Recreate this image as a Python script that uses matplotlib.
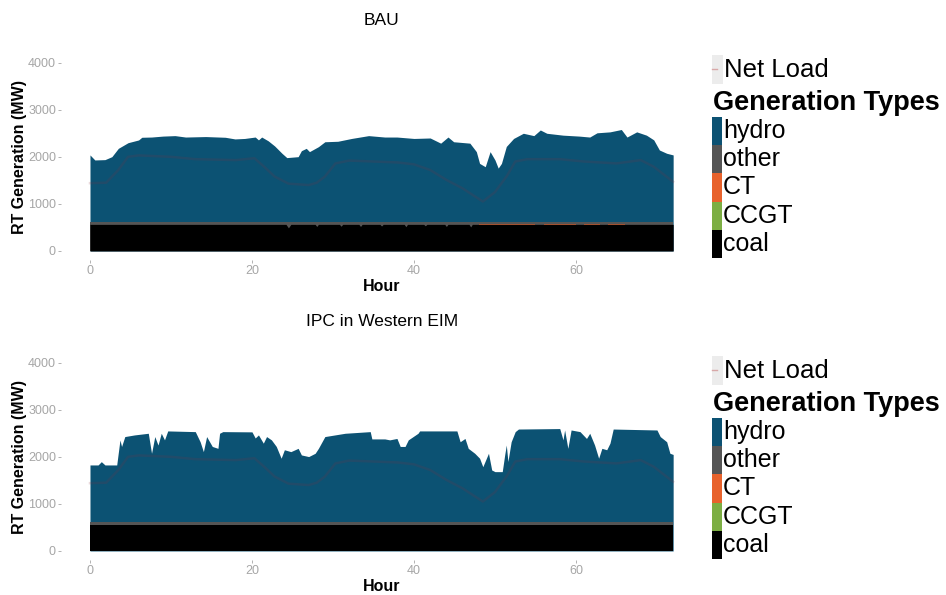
import matplotlib
matplotlib.use("Agg")
from matplotlib import pyplot as plt
from matplotlib.patches import Rectangle
import numpy as np

plt.rcParams['font.family'] = ['Liberation Sans', 'DejaVu Sans']

# ---- data (hours, MW) ----
net_h = [0, 2, 3.5, 4.7, 6, 10, 13, 18, 20.3, 21.5, 22.8, 24.5, 27, 28, 29, 30.3, 32, 38, 40,
         42, 44, 46, 48.5, 50, 51.5, 52.5, 54, 58, 61, 65, 68, 69.6, 72]
net_load = [1440, 1450, 1720, 2000, 2030, 2000, 1950, 1930, 1970, 1790, 1580, 1430, 1400, 1450,
            1580, 1860, 1920, 1880, 1840, 1720, 1510, 1330, 1050, 1250, 1600, 1900, 1950, 1950,
            1900, 1860, 1930, 1790, 1470]

bau_h = [0, 0.6, 1.85, 2.7, 3.5, 4.7, 6, 6.4, 7.6, 9, 10.5, 11.8, 14.3, 16.7, 17.9, 19.1, 20.4,
         20.8, 21.2, 22, 22.8, 23.7, 24.3, 25.7, 26.1, 26.7, 27.1, 28.2, 29, 30.6, 32.3, 34.4,
         36.4, 37.9, 40, 42, 43.3, 44.2, 44.9, 46.9, 47.7, 48.1, 48.8, 49.4, 50, 50.4, 50.8,
         51.4, 52.3, 53.5, 54.8, 55.6, 56.4, 58.4, 60.4, 61.7, 62.6, 64.2, 65.6, 66.3, 67.5,
         68.7, 69.6, 70.3, 71.2, 72]
bau_total = [2040, 1933, 1940, 2003, 2180, 2300, 2358, 2415, 2420, 2440, 2450, 2420, 2430, 2415,
             2380, 2390, 2420, 2360, 2420, 2340, 2230, 2075, 1983, 2003, 2130, 2180, 2110, 2215,
             2320, 2330, 2390, 2450, 2420, 2420, 2390, 2400, 2290, 2420, 2320, 2290, 2110, 1860,
             1790, 2110, 1933, 1760, 1860, 2220, 2390, 2500, 2450, 2570, 2500, 2460, 2440, 2420,
             2510, 2530, 2580, 2420, 2530, 2460, 2360, 2145, 2075, 2040]

ipc_h = [0, 1.0, 1.4, 1.85, 3.3, 3.7, 3.9, 4.3, 5.5, 7.2, 7.6, 8, 8.4, 8.8, 9.2, 9.6, 13, 13.6, 14,
         14.4, 15.1, 15.8, 16, 16.4, 20, 20.4, 20.8, 21.4, 21.8, 22.4, 23, 23.6, 24, 24.8, 25.7,
         26.1, 27, 27.8, 28.2, 29, 31.5, 34.6, 34.8, 36.4, 37, 37.9, 38.3, 38.9, 39.3, 40.5,
         40.7, 45.3, 45.7, 46.3, 46.7, 47.5, 48.1, 48.5, 49.2, 49.6, 50, 50.9, 51.2, 51.4, 51.6,
         52, 52.5, 52.9, 58, 58.4, 58.6, 59, 59.4, 60.5, 61.3, 61.7, 62.3, 62.8, 63.2, 63.8,
         64.2, 64.6, 70, 70.4, 71.2, 71.6, 72]
ipc_total = [1827, 1827, 1897, 1827, 1827, 2358, 2220, 2430, 2465, 2500, 2075, 2430, 2250, 2500,
             2360, 2550, 2535, 2320, 2110, 2430, 2220, 2180, 2500, 2535, 2530, 2400, 2465, 2290,
             2430, 2360, 2220, 1970, 2150, 2110, 2180, 2040, 2005, 2075, 2180, 2430, 2500, 2535,
             2380, 2380, 2360, 2390, 2220, 2220, 2360, 2500, 2550, 2550, 2320, 2390, 2180, 2075,
             1970, 1790, 2075, 1720, 1685, 1685, 2040, 2250, 1900, 2320, 2535, 2590, 2600, 2360,
             2570, 2180, 2570, 2535, 2390, 2500, 2250, 1970, 2180, 2150, 2290, 2590, 2570, 2430,
             2320, 2075, 2050]

# coal output (BAU has small dips in the middle of the run)
bau_coal_h = [0, 24.2, 24.5, 24.8, 27.8, 28, 28.2, 30.8, 31, 31.2, 33.2, 33.4, 33.6, 35.8, 36,
              36.2, 38.8, 39, 39.2, 41.2, 41.4, 41.6, 43.8, 44, 44.2, 46.8, 47, 47.2, 72]
bau_coal = [565, 565, 490, 565, 565, 520, 565, 565, 525, 565, 565, 520, 565, 565, 530, 565,
            565, 515, 565, 565, 535, 565, 565, 520, 565, 565, 510, 565, 565]
ipc_coal_h = [0, 72]
ipc_coal = [560, 560]
other_mw = 50

# CT running only in the second half of BAU
ct_h = [0, 47.9, 48, 55, 55.5, 56, 60, 60.4, 61, 63, 63.4, 64, 66, 66.5, 67, 72]
ct_mw = [0, 0, 22, 22, 0, 22, 22, 0, 22, 22, 0, 22, 22, 0, 0, 0]

gen_types = ['hydro', 'other', 'CT', 'CCGT', 'coal']
gen_colors = ['#0c5273', '#555555', '#e8622c', '#7cae43', '#000000']
net_color = '#8b2e3a'
tick_grey = '#a6a6a6'

panels = [
    ('BAU', bau_h, bau_total, bau_coal_h, bau_coal, True),
    ('IPC in Western EIM', ipc_h, ipc_total, ipc_coal_h, ipc_coal, False),
]

W, H = 946, 595
fig = plt.figure(figsize=(W / 100, H / 100), dpi=100)

def fx(px):
    return px / W

def fy(py):
    return 1 - py / H

bottoms = [0.5624, 0.0582]
title_pads = [20, 19.5]
for k, (title, hh, tot, ch, coal, has_ct) in enumerate(panels):
    ax = fig.add_axes([0.0643, bottoms[k], 0.6781, 0.3481])
    # paint in stack order: total (hydro) first, lower layers over it
    ax.fill_between(hh, 0, tot, color=gen_colors[0], lw=0)
    top_other = max(coal) + other_mw
    ax.fill_between([hh[0], hh[-1]], 0, top_other, color=gen_colors[1], lw=0)
    if has_ct:
        ct = np.array(ct_mw)
        ax.fill_between(ct_h, max(coal) - 5, max(coal) - 5 + ct, where=ct > 0,
                        color=gen_colors[2], lw=0, alpha=0.7)
    ax.fill_between(ch, 0, coal, color=gen_colors[4], lw=0)
    ax.plot(net_h, net_load, color=net_color, lw=1.8, alpha=0.17)

    ax.set_xlim(-3.6, 75.6)
    ax.set_ylim(-200, 4200)
    ax.set_xticks([0, 20, 40, 60])
    ax.set_yticks([0, 1000, 2000, 3000, 4000])
    for s in ax.spines.values():
        s.set_visible(False)
    ax.tick_params(axis='both', colors=tick_grey, labelcolor=tick_grey, labelsize=9,
                   length=2, width=0.6, pad=1.5)
    ax.set_xlabel('Hour', fontsize=11.5, fontweight='bold', labelpad=1)
    ax.set_ylabel('RT Generation (MW)', fontsize=11.5, fontweight='bold', labelpad=1)
    ax.set_title(title, fontsize=12.5, pad=title_pads[k])

    # legend drawn on the figure
    off = 301 * k
    fig.patches.append(Rectangle((fx(712), fy(84 + off)), fx(11), 29 / H,
                                 transform=fig.transFigure, color='#ececec', lw=0))
    fig.lines.append(plt.Line2D([fx(712), fx(717)], [fy(69 + off)] * 2,
                                transform=fig.transFigure, color='#d8a8a8', lw=1))
    fig.text(fx(724), fy(70 + off), 'Net Load', fontsize=18.5, va='center', ha='left')
    fig.text(fx(713), fy(103 + off), 'Generation Types', fontsize=19.5,
             fontweight='bold', va='center', ha='left')
    for i, (name, c) in enumerate(zip(gen_types, gen_colors)):
        y0 = 117 + off + 28.2 * i
        fig.patches.append(Rectangle((fx(712), fy(y0 + 28.2)), fx(10), 28.2 / H,
                                     transform=fig.transFigure, color=c, lw=0))
        fig.text(fx(723), fy(y0 + 14), name, fontsize=18, va='center', ha='left')

fig.savefig('out.png', dpi=100)
